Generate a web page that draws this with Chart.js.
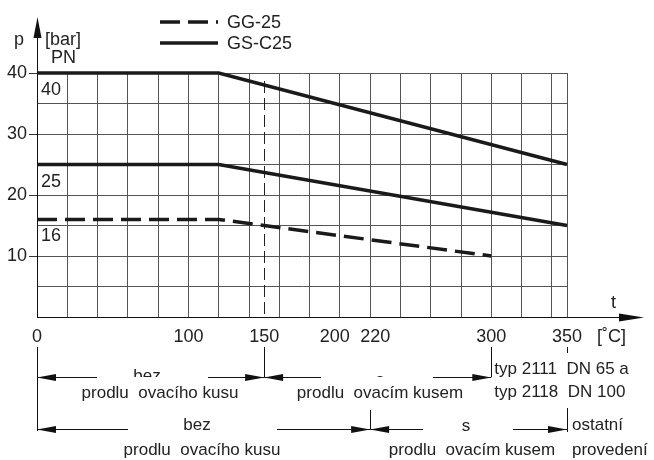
<!DOCTYPE html>
<html><head><meta charset="utf-8">
<script src="https://cdn.jsdelivr.net/npm/chart.js@4.4.1/dist/chart.umd.min.js"></script>
<style>html,body{margin:0;padding:0;background:#fff}canvas{display:block}</style>
</head><body>
<canvas id="c" width="654" height="460"></canvas>
<script>
// ---- data ----
const seriesNames = ['GG-25', 'GS-C25'];
const tempGG16 = [0, 120, 300];
const pnGG16 = [16, 16, 10];
const tempGS40 = [0, 120, 350];
const pnGS40 = [40, 40, 25];
const tempGS25 = [0, 120, 350];
const pnGS25 = [25, 25, 15];
const xGridTicks = [0,20,40,60,80,100,120,140,150,160,180,200,220,240,260,280,300,320,340,350];
const xTickLabels = [0,100,150,200,220,300,350];
const yTickLabels = [10,20,30,40];
const pnLabels = [{t:'40', v:40}, {t:'25', v:25}, {t:'16', v:16}];

const pts = (xs, ys) => xs.map((x, i) => ({x, y: ys[i]}));
const FONT = '"Liberation Sans", Arial, sans-serif';
const TXT = '#222';

function arrowHead(ctx, x, y, dir) { // dir: -1 points left, 1 points right
  ctx.beginPath();
  ctx.moveTo(x, y);
  ctx.lineTo(x - dir * 19, y - 3.5);
  ctx.lineTo(x - dir * 19, y + 3.5);
  ctx.closePath();
  ctx.fill();
}
const px = v => Math.round(v) + 0.5;
function hline(ctx, x1, x2, y) { ctx.beginPath(); ctx.moveTo(x1, px(y)); ctx.lineTo(x2, px(y)); ctx.stroke(); }
function vline(ctx, x, y1, y2) { ctx.beginPath(); ctx.moveTo(px(x), y1); ctx.lineTo(px(x), y2); ctx.stroke(); }

const extras = {
  id: 'extras',
  beforeDatasetsDraw(chart) {
    const ctx = chart.ctx, xs = chart.scales.x, ys = chart.scales.y;
    const x150 = xs.getPixelForValue(150);
    ctx.save();
    ctx.strokeStyle = '#222'; ctx.lineWidth = 1; ctx.setLineDash([12, 5]);
    vline(ctx, x150, ys.getPixelForValue(40) + 8, ys.getPixelForValue(0));
    ctx.restore();
  },
  afterDraw(chart) {
    const ctx = chart.ctx, xs = chart.scales.x, ys = chart.scales.y;
    const X = v => xs.getPixelForValue(v), Y = v => ys.getPixelForValue(v);
    const x0 = X(0), yb = Y(0), yt = Y(40);
    ctx.save();
    ctx.fillStyle = '#111'; ctx.strokeStyle = '#111'; ctx.lineWidth = 1;
    // y axis arrow
    vline(ctx, x0, yt, 30);
    ctx.beginPath(); ctx.moveTo(px(x0), 17); ctx.lineTo(px(x0) - 4, 38); ctx.lineTo(px(x0) + 4, 38); ctx.closePath(); ctx.fill();
    // x axis arrow
    hline(ctx, X(350), 625, yb);
    ctx.beginPath(); ctx.moveTo(644, px(yb)); ctx.lineTo(619, px(yb) - 4); ctx.lineTo(619, px(yb) + 4); ctx.closePath(); ctx.fill();
    // texts
    ctx.fillStyle = TXT;
    ctx.font = '18px ' + FONT; ctx.textBaseline = 'alphabetic'; ctx.textAlign = 'left';
    ctx.fillText('p', 14, 45);
    ctx.fillText('[bar]', 45, 45);
    ctx.fillText('PN', 51, 63);
    pnLabels.forEach(p => ctx.fillText(p.t, x0 + 4, Y(p.v) + 22));
    ctx.fillText('t', 611, 308);
    ctx.fillText('[˚C]', 597, 342);
    // legend
    const dsets = chart.data.datasets;
    [[0, 22], [1, 43]].forEach(([i, y], k) => {
      const d = dsets[i];
      ctx.save();
      ctx.strokeStyle = d.borderColor; ctx.lineWidth = d.borderWidth; ctx.setLineDash(d.borderDash || []);
      ctx.beginPath(); ctx.moveTo(160, y); ctx.lineTo(218, y); ctx.stroke();
      ctx.restore();
      ctx.fillStyle = TXT;
      ctx.fillText(seriesNames[k], 227, y + 6);
    });
    // bottom annotation rows
    ctx.fillStyle = '#111'; ctx.strokeStyle = '#111';
    const r1 = 377, r2 = 429;
    const xa = X(0), xb = X(150), xc = X(300), xd = X(220), xe = X(350);
    vline(ctx, xa, 347, 431);
    vline(ctx, xb, 347, r1);
    vline(ctx, xc, 347, r1);
    vline(ctx, xe, 347, 353);
    vline(ctx, xd, 410, r2);
    vline(ctx, xe, 408, 432);
    // row 1
    hline(ctx, xa, 97, r1); arrowHead(ctx, xa, r1 + 0.5, -1);
    hline(ctx, 208, xb, r1); arrowHead(ctx, xb, r1 + 0.5, 1);
    hline(ctx, xb, 321, r1); arrowHead(ctx, xb, r1 + 0.5, -1);
    hline(ctx, 433, xc, r1); arrowHead(ctx, xc, r1 + 0.5, 1);
    // row 2
    hline(ctx, xa, 128, r2); arrowHead(ctx, xa, r2 + 0.5, -1);
    hline(ctx, 277, xd, r2); arrowHead(ctx, xd, r2 + 0.5, 1);
    hline(ctx, xd, 423, r2); arrowHead(ctx, xd, r2 + 0.5, -1);
    hline(ctx, 513, xe, r2); arrowHead(ctx, xe, r2 + 0.5, 1);
    // texts
    ctx.fillStyle = TXT; ctx.font = '17px ' + FONT;
    ctx.save();
    ctx.beginPath(); ctx.rect(0, 340, 654, r1 - 340); ctx.clip();
    ctx.textAlign = 'center';
    ctx.fillText('bez', 147, 381);
    ctx.fillText('s', 380, 385);
    ctx.restore();
    ctx.textAlign = 'center';
    ctx.fillText('prodlu  ovacího kusu', 160, 398);
    ctx.fillText('prodlu  ovacím kusem', 380, 398);
    ctx.fillText('bez', 197, 430);
    ctx.fillText('s', 466, 431);
    ctx.fillText('prodlu  ovacího kusu', 202, 455);
    ctx.fillText('prodlu  ovacím kusem', 472, 455);
    ctx.textAlign = 'left';
    ctx.fillText('typ 2111  DN 65 a', xc + 3, 374);
    ctx.fillText('typ 2118  DN 100', xc + 3, 397);
    ctx.fillText('ostatní', xe + 5, 430);
    ctx.fillText('provedení', xe + 5, 455);
    ctx.restore();
  }
};

const lineStyle = {borderColor: '#1a1a1a', borderWidth: 3.5, pointRadius: 0, fill: false, tension: 0, clip: 6};

function xLabel(v) {
  if (!xTickLabels.includes(v)) return '';
  if (v === 200) return String(v) + '  ';
  if (v === 220) return '  ' + String(v);
  return String(v);
}

new Chart(document.getElementById('c'), {
  type: 'line',
  data: {
    datasets: [
      Object.assign({label: 'GG-25 PN16', data: pts(tempGG16, pnGG16), borderDash: [20, 8]}, lineStyle),
      Object.assign({label: 'GS-C25 PN40', data: pts(tempGS40, pnGS40)}, lineStyle),
      Object.assign({label: 'GS-C25 PN25', data: pts(tempGS25, pnGS25)}, lineStyle)
    ]
  },
  options: {
    responsive: false,
    devicePixelRatio: 1,
    animation: false,
    layout: {padding: {left: 0, top: 73, right: 87, bottom: 113}},
    plugins: {legend: {display: false}, tooltip: {enabled: false}},
    scales: {
      x: {
        type: 'linear', min: 0, max: 350,
        afterBuildTicks: s => { s.ticks = xGridTicks.map(v => ({value: v})); },
        afterFit: s => { s.height = 30; },
        grid: {
          color: c => (c.tick && c.tick.value === 150) ? 'rgba(0,0,0,0)' : '#555',
          lineWidth: 1, drawTicks: false
        },
        border: {color: '#111', width: 1},
        ticks: {
          autoSkip: false, maxRotation: 0, padding: 9, color: TXT,
          font: {family: FONT, size: 18},
          callback: v => xLabel(v)
        }
      },
      y: {
        type: 'linear', min: 0, max: 40,
        ticks: {
          stepSize: 5, padding: 2, color: TXT,
          font: {family: FONT, size: 18},
          callback: v => yTickLabels.includes(v) ? String(v) : ''
        },
        afterFit: s => { s.width = 37; },
        grid: {
          color: '#555', lineWidth: 1, tickLength: 8,
          tickColor: c => (c.tick && yTickLabels.includes(c.tick.value)) ? '#333' : 'rgba(0,0,0,0)'
        },
        border: {color: '#111', width: 1}
      }
    }
  },
  plugins: [extras]
});
</script>
</body></html>
